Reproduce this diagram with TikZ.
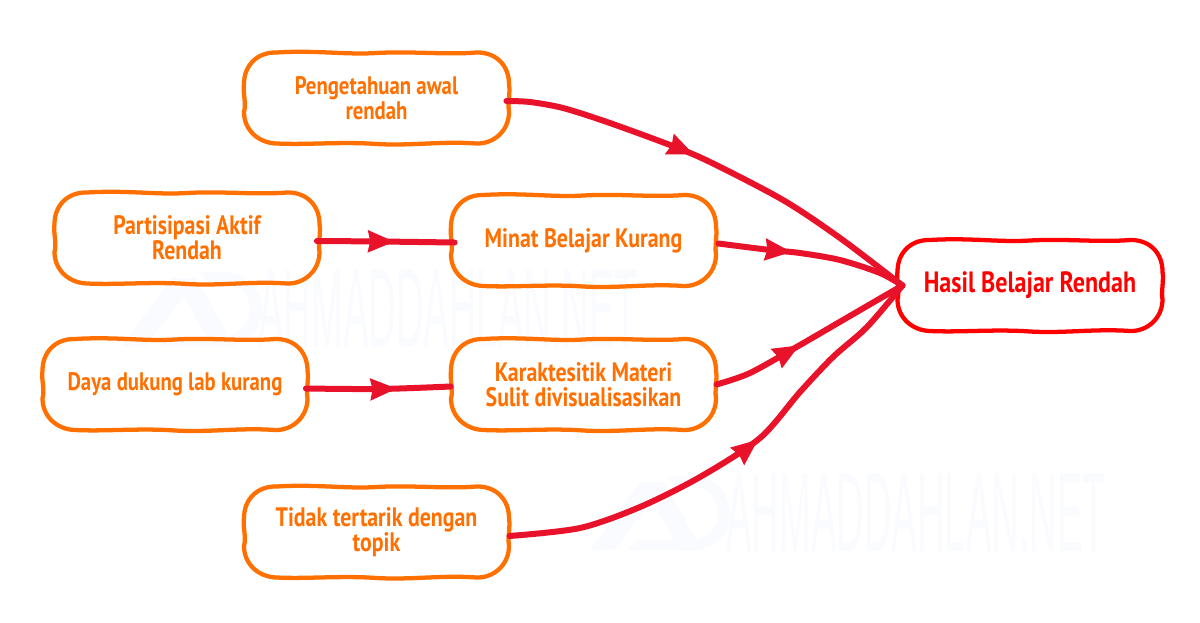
\documentclass[tikz,border=0pt]{standalone}
\usepackage{fontspec}
\usepackage{graphicx}
\usetikzlibrary{decorations.markings,arrows.meta}
\newfontfamily\handfont[FakeStretch=0.82]{PT Sans}
\newfontfamily\markfont{Liberation Sans}
\definecolor{boxorange}{HTML}{FF7000}
\definecolor{linkred}{HTML}{E8132B}
\definecolor{resultred}{HTML}{FF0000}
\definecolor{faintmark}{HTML}{FAFBFE}
\newcommand{\wobbly}[2]{%
  % #1 node name, #2 colour: hand-drawn outline along the node's border
  \draw[color=#2,line width=3.2pt,line join=round,shift={(#1.center)}]
    (-100,-45.5) .. controls (-60,-48) and (-30,-43) .. (0,-45)
    .. controls (35,-47) and (70,-43) .. (100,-45.5)
    .. controls (120,-46) and (132.5,-32) .. (132.5,-14)
    .. controls (134,-5) and (131,6) .. (132.5,14)
    .. controls (132.5,32) and (118,46) .. (100,45.5)
    .. controls (65,43) and (35,48) .. (0,46)
    .. controls (-35,43.5) and (-70,47) .. (-100,45.5)
    .. controls (-118,45) and (-132.5,32) .. (-132.5,14)
    .. controls (-130,5) and (-134,-6) .. (-132.5,-14)
    .. controls (-132.5,-32) and (-120,-46) .. (-100,-45.5) -- cycle;
}
\tikzset{
  x=0.75pt,y=-0.75pt,
  boxtext/.style={minimum width=199pt,minimum height=68pt,inner sep=0pt,align=center,text=boxorange,font=\handfont\fontsize{20}{19}\selectfont\bfseries},
  smalltext/.style={boxtext,font=\handfont\fontsize{19}{19}\selectfont\bfseries},
  resulttext/.style={boxtext,text=resultred,font=\handfont\fontsize{22}{19}\selectfont\bfseries},
  link/.style={draw=linkred,line width=4.5pt,line cap=round,line join=round},
  tipat/.style={postaction={decorate,decoration={markings,mark=at position #1 with {\arrow[linkred,line width=0pt]{Stealth[length=20pt,width=17pt,inset=2pt,round]}}}}},
  markpart/.style={fill=faintmark,draw=none},
}
\begin{document}
\begin{tikzpicture}
\useasboundingbox (0,0) rectangle (1200,622);
\fill[white] (0,0) rectangle (1200,622);
% watermarks
\foreach \ox/\oy in {0/0,468/204}{
  \begin{scope}[shift={(\ox,\oy)}]
    \fill[markpart] (122,346) -- (172,278) -- (196,278) -- (234,346) -- (212,346) -- (184,296) -- (146,346) -- cycle;
    \fill[markpart] (160,346) -- (222,346) .. controls (252,346) and (262,325) .. (262,310) .. controls (262,290) and (248,272) .. (222,272) -- (200,272) -- (208,282) -- (222,282) .. controls (240,282) and (250,295) .. (250,310) .. controls (250,322) and (240,336) .. (222,336) -- (168,336) -- cycle;
    \node[inner sep=0pt,text=faintmark,anchor=west] (wm\ox) at (258,309) {\resizebox{285pt}{58pt}{\markfont AHMADDAHLAN.NET}};
  \end{scope}
}
% text nodes
\node[smalltext] (know) at (376.5,98) {Pengetahuan awal\\rendah};
\node[boxtext] (part) at (187,238) {Partisipasi Aktif\\Rendah};
\node[boxtext] (minat) at (583.5,240.5) {Minat Belajar Kurang};
\node[smalltext] (lab) at (175,384.5) {Daya dukung lab kurang};
\node[boxtext] (char) at (583.5,384.5) {Karaktesitik Materi\\Sulit divisualisasikan};
\node[boxtext] (topic) at (376.5,532) {Tidak tertarik dengan\\topik};
\node[resulttext] (result) at (1030,285.5) {Hasil Belajar Rendah};
% outlines
\wobbly{know}{boxorange}
\wobbly{part}{boxorange}
\wobbly{minat}{boxorange}
\wobbly{lab}{boxorange}
\wobbly{char}{boxorange}
\wobbly{topic}{boxorange}
\wobbly{result}{resultred}
% connectors
\path[link,tipat=147pt] plot[smooth,tension=.5] coordinates {([shift={(-3,3)}]know.east) (530,102) (563,108) (607,122) (670,145) (710,162) (783,200) (840,238) ([xshift=4pt]result.west)};
\path[link,tipat=58pt] plot[smooth,tension=.5] coordinates {([shift={(-3,3)}]part.east) (380,241.5) ([shift={(4,2)}]minat.west)};
\path[link,tipat=55pt] plot[smooth,tension=.5] coordinates {([shift={(2,3)}]minat.east) (770,250) (800,253) (840,260) (880,273) ([xshift=4pt]result.west)};
\path[link,tipat=68pt] plot[smooth,tension=.5] coordinates {([shift={(-2,4)}]lab.east) (380,389) ([shift={(0,2)}]char.west)};
\path[link,tipat=69pt] plot[smooth,tension=.5] coordinates {(char.east) (750,373) (800,345) (843,320) ([xshift=4pt]result.west)};
\path[link,tipat=203pt] plot[smooth,tension=.5] coordinates {([yshift=-3pt]topic.east) (580,528) (640,507) (700,477) (760,438) (800,392) (833,357) (867,327) ([xshift=4pt]result.west)};
\end{tikzpicture}
\end{document}
